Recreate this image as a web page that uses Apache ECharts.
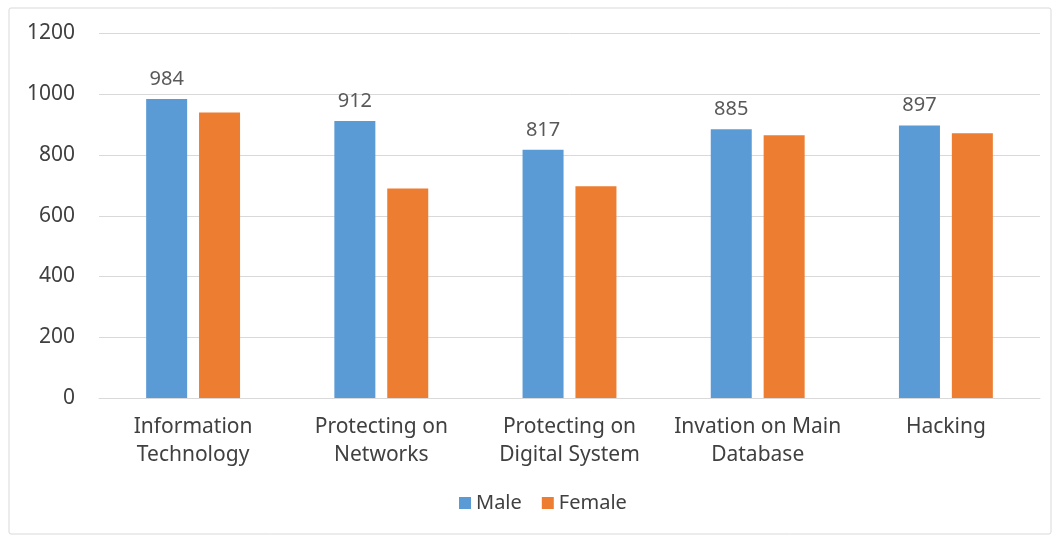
<!DOCTYPE html>
<html>
<head>
<meta charset="utf-8">
<script src="https://cdn.jsdelivr.net/npm/echarts@6/dist/echarts.min.js"></script>
<style>
  html, body { margin: 0; padding: 0; background: #fff; }
  #chart { width: 1059px; height: 536px; }
</style>
</head>
<body>
<div id="chart"></div>
<script>
// Topics and scores per gender
const categories = [
  'Information\nTechnology',
  'Protecting on\nNetworks',
  'Protecting on\nDigital System',
  'Invation on Main\nDatabase',
  'Hacking'
];
const maleValues = [984, 912, 817, 885, 897];
const femaleValues = [940, 690, 697, 865, 872];
const yTicks = { min: 0, max: 1200, interval: 200 };

const FONT = '"Noto Sans", "Open Sans", sans-serif';

const chart = echarts.init(document.getElementById('chart'), null, { renderer: 'canvas' });
chart.setOption({
  backgroundColor: '#ffffff',
  animation: false,
  textStyle: { fontFamily: FONT },
  graphic: [{
    type: 'rect',
    shape: { x: 9, y: 8, width: 1042, height: 526, r: 2 },
    style: { fill: 'none', stroke: '#d9d9d9', lineWidth: 1 },
    silent: true,
    z: -1
  }],
  grid: { left: 99, right: 19, top: 33.5, bottom: 138 },
  legend: {
    data: ['Male', 'Female'],
    bottom: 18,
    left: 454,
    itemWidth: 12,
    itemHeight: 12,
    itemGap: 20,
    icon: 'rect',
    textStyle: { fontSize: 20, color: '#404040', fontFamily: FONT }
  },
  xAxis: {
    type: 'category',
    data: categories,
    axisLine: { show: true, lineStyle: { color: '#d9d9d9', width: 1 } },
    axisTick: { show: false },
    axisLabel: {
      fontSize: 21,
      color: '#404040',
      lineHeight: 28,
      margin: 15,
      interval: 0,
      fontFamily: FONT
    }
  },
  yAxis: {
    type: 'value',
    min: yTicks.min,
    max: yTicks.max,
    interval: yTicks.interval,
    axisLine: { show: false },
    axisTick: { show: false },
    splitLine: { lineStyle: { color: '#d9d9d9', width: 1 } },
    axisLabel: {
      fontSize: 21,
      color: '#404040',
      margin: 24,
      fontFamily: FONT,
      formatter: function (v) { return String(v); }
    }
  },
  series: [
    {
      name: 'Male',
      type: 'bar',
      data: maleValues,
      barWidth: 41,
      barGap: '29%',
      itemStyle: { color: '#5b9bd5' },
      label: {
        show: true,
        position: 'top',
        distance: 10,
        fontSize: 20,
        color: '#595959',
        fontFamily: FONT
      }
    },
    {
      name: 'Female',
      type: 'bar',
      data: femaleValues,
      barWidth: 41,
      itemStyle: { color: '#ed7d31' }
    }
  ]
});
</script>
</body>
</html>
